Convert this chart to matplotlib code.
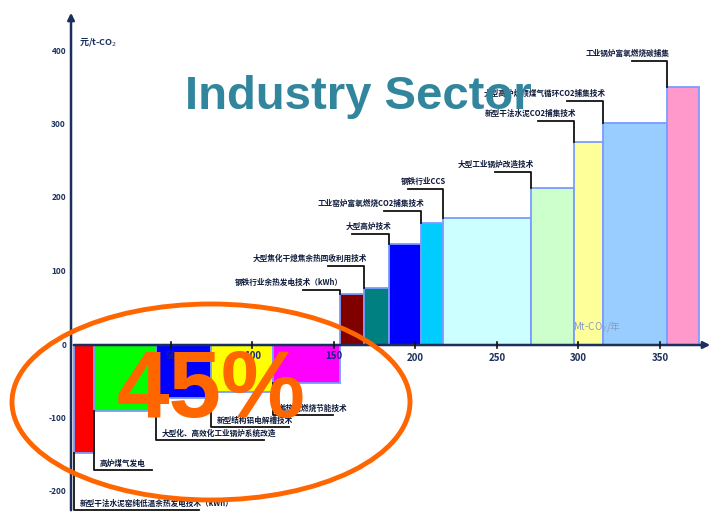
import matplotlib
matplotlib.use("Agg")
import matplotlib.pyplot as plt
from matplotlib.patches import Ellipse

plt.rcParams["font.family"] = ["Noto Sans CJK SC", "DejaVu Sans"]

# abatement measures, ordered by cost (元/t-CO2) ; width = potential (Mt-CO2/年)
labels = [
    "新型干法水泥窑纯低温余热发电技术（kWh）",
    "高炉煤气发电",
    "大型化、高效化工业锅炉系统改造",
    "新型结构铝电解槽技术",
    "蓄热式燃烧节能技术",
    "钢铁行业余热发电技术（kWh）",
    "大型焦化干熄焦余热回收利用技术",
    "大型高炉技术",
    "工业窑炉富氧燃烧CO2捕集技术",
    "钢铁行业CCS",
    "大型工业锅炉改造技术",
    "新型干法水泥CO2捕集技术",
    "大型高炉炉顶煤气循环CO2捕集技术",
    "工业锅炉富氧燃烧碳捕集",
]
potential = [12, 38, 34, 38, 41, 15, 15, 20, 13.5, 54, 26, 18, 39, 20]
cost = [-147, -90, -72, -64, -52, 69, 78, 137, 166, 173, 214, 276, 302, 351]
colors = ["#ff0000", "#00ff00", "#0000ff", "#ffff00", "#ff00ff",
          "#800000", "#008080", "#0000ff", "#00ccff", "#ccffff",
          "#ccffcc", "#ffff99", "#99ccff", "#ff99cc"]
x_start = -9.5

y_ticks = [400, 300, 200, 100, 0, -100, -200]
x_ticks = [50, 100, 150, 200, 250, 300, 350]

# leader line lengths in pixels: vertical run, horizontal run
leader_v = [57, 59, 42, 35, 32, 4, 22, 10, 12, 29, 16, 21, 22, 26]
leader_h = [125, 58, 108, 78, 60, 37, 36, 37, 37, 35, 36, 36, 36, 35]

W, H = 714, 513
px_x, x0_px = 1.63, 89.5
px_y, y0_px = 0.735, 345
navy = "#1b2f5c"

fig = plt.figure(figsize=(W / 100, H / 100), dpi=100)
ax = fig.add_axes([0, 0, 1, 1])
ax.set_xlim(-x0_px / px_x, (W - x0_px) / px_x)
ax.set_ylim(-(H - y0_px) / px_y, y0_px / px_y)
ax.axis("off")

def dx(p):
    return p / px_x

def dy(p):
    return p / px_y

lefts = []
pos = x_start
for w in potential:
    lefts.append(pos)
    pos += w

ax.bar(lefts, cost, width=potential, align="edge", color=colors,
       edgecolor="#7a9cff", linewidth=1.3, zorder=2)

# axes with arrows
y_axis_x = x_start - dx(3)
ax.annotate("", xy=(y_axis_x, ax.get_ylim()[1] - dy(10)),
            xytext=(y_axis_x, ax.get_ylim()[0]),
            arrowprops=dict(arrowstyle="-|>", color=navy, lw=1.8,
                            mutation_scale=10), zorder=4)
ax.annotate("", xy=(ax.get_xlim()[1] - dx(1), 0), xytext=(y_axis_x, 0),
            arrowprops=dict(arrowstyle="-|>", color=navy, lw=1.8,
                            mutation_scale=10), zorder=4)

for t in y_ticks:
    ax.text(y_axis_x - dx(5), t, str(t), ha="right", va="center",
            fontsize=6, fontweight="bold", color=navy, zorder=5)
for t in x_ticks:
    ax.plot([t, t], [-dy(3), dy(3)], color="#111111", lw=1.2, zorder=4)
    inside = t <= 150
    ax.text(t, -dy(11 if inside else 13), str(t), ha="center", va="center",
            fontsize=7, fontweight="bold",
            color="#1a2080" if inside else navy, zorder=5)

ax.text(y_axis_x + dx(8), 400 + dy(10), "元/t-CO$_2$", ha="left",
        va="center", fontsize=6.5, fontweight="bold", color=navy)
ax.text(300 - dx(5), dy(18), "Mt-CO$_2$/年", ha="left", va="center",
        fontsize=7, color="#8a9cc0", zorder=5)

# leader lines and measure names
for lab, l, c, v, h in zip(labels, lefts, cost, leader_v, leader_h):
    if c < 0:
        y1 = c - dy(v)
        ax.plot([l, l, l + dx(h)], [c, y1, y1], color="#111111", lw=1.3,
                zorder=3)
        ax.text(l + dx(6), y1 + dy(2), lab, ha="left", va="bottom",
                fontsize=5.5, fontweight="bold", color="#0d1a3a", zorder=3)
    else:
        y1 = c + dy(v)
        ax.plot([l, l, l - dx(h)], [c, y1, y1], color="#111111", lw=1.3,
                zorder=3)
        ax.text(l + dx(3), y1 + dy(3), lab, ha="right", va="bottom",
                fontsize=5.5, fontweight="bold", color="#0d1a3a", zorder=3)

ax.text(358 / W, 1 - 97 / H, "Industry Sector", transform=ax.transAxes,
        ha="center", va="center", fontsize=34, fontweight="bold",
        color="#31859c", family="Liberation Sans", zorder=6)

ax.add_patch(Ellipse((211 / W, 1 - 402 / H), 398 / W, 196 / H,
                     transform=ax.transAxes, fill=False,
                     edgecolor="#ff6600", lw=3.5, zorder=6))
ax.text(211 / W, 1 - 392 / H, "45%", transform=ax.transAxes,
        ha="center", va="center", fontsize=68, fontweight="bold",
        color="#ff6600", family="Liberation Sans", zorder=7)

fig.savefig("out.png", dpi=100)
